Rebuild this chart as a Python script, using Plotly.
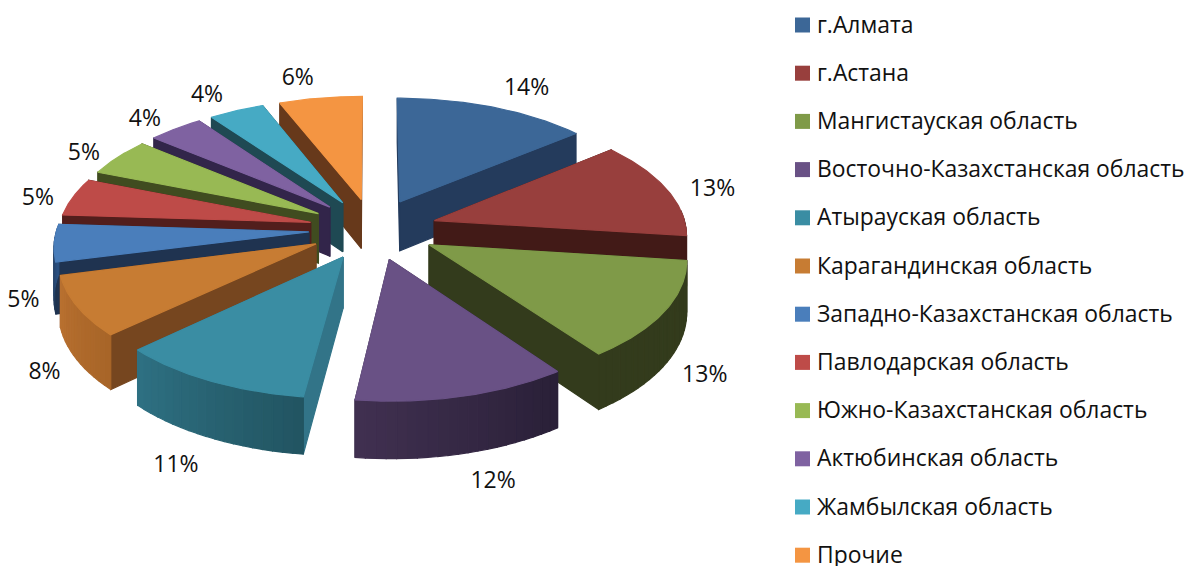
import numpy as np
import plotly.graph_objects as go

categories = ["г.Алмата", "г.Астана", "Мангистауская область", "Восточно-Казахстанская область",
              "Атырауская область", "Карагандинская область", "Западно-Казахстанская область",
              "Павлодарская область", "Южно-Казахстанская область", "Актюбинская область",
              "Жамбылская область", "Прочие"]
values = [14, 13, 13, 12, 11, 8, 5, 5, 5, 4, 4, 6]
top_colors = ["#3C6797", "#983F3D", "#7F9A48", "#695185", "#3A8DA3", "#C77C33",
              "#4A7EBB", "#BE4B48", "#98B954", "#7F62A1", "#46AAC4", "#F49542"]
face_colors = ["#243B5C", "#421A17", "#333B1C", "#2E2342", "#327488", "#76461F",
               "#1F3350", "#521E1C", "#404C20", "#32254A", "#1F4953", "#67391B"]
wall_left = ["#243B5C", "#421A17", "#333B1C", "#403050", "#2E7082", "#B87030",
             "#2A5080", "#7A2E2C", "#5E7330", "#4E3C66", "#2A6C7C", "#96582A"]
wall_right = ["#243B5C", "#421A17", "#333B1C", "#2A2038", "#225562", "#A86528",
              "#1F3350", "#521E1C", "#404C20", "#32254A", "#1F4953", "#67391B"]
label_nudges = [(18, 4), (12, 8), (9, -1), (21, 5), (-18, 7), (-1, 2),
                (5, 5), (0, 7), (-3, 9), (-6, 9), (-12, 7), (-16, 5)]

CX, CY = 373, 229
RX, RY, K, E = 252, 120, 0.105, 0.255
DEPTH = 50


def project(Xw, Yw):
    p = 1 / (1 - K * Yw)
    return CX + RX * Xw * p, CY + RY * Yw * p, p


def rim(a, m):
    return project(E * np.sin(m) + np.sin(a), -E * np.cos(m) - np.cos(a))


def drop(p):
    return DEPTH * p


def poly(xs, ys, color, name):
    return go.Scatter(x=xs, y=ys, mode="lines", fill="toself", fillcolor=color,
                      line=dict(color=color, width=1.2), hoverinfo="skip", name=name, showlegend=False)


def lerp(c1, c2, t):
    a = [int(c1[i:i + 2], 16) for i in (1, 3, 5)]
    b = [int(c2[i:i + 2], 16) for i in (1, 3, 5)]
    return "rgb(%d,%d,%d)" % tuple(round(u + (v - u) * t) for u, v in zip(a, b))


fractions = np.array(values) / sum(values)
edges = np.concatenate([[0], np.cumsum(fractions)]) * 2 * np.pi
mids = (edges[:-1] + edges[1:]) / 2
order = sorted(range(len(values)), key=lambda i: -np.cos(mids[i]))

fig = go.Figure()
for i in order:
    a0, a1, m = edges[i], edges[i + 1], mids[i]
    ax, ay, ap = project(E * np.sin(m), -E * np.cos(m))
    name = categories[i]
    for a in sorted((a0, a1), key=lambda q: -np.cos(q)):
        x, y, p = rim(a, m)
        fig.add_trace(poly([ax, x, x, ax, ax], [ay, y, y + drop(p), ay + drop(ap), ay], face_colors[i], name))
    n = max(2, int((a1 - a0) / np.radians(2)))
    grid = np.linspace(a0, a1, n + 1)
    for j in range(n):
        if -np.cos((grid[j] + grid[j + 1]) / 2) < -0.08:
            continue
        x0, y0, p0 = rim(grid[j], m)
        x1, y1, p1 = rim(grid[j + 1], m)
        t = 1 - j / max(n - 1, 1)
        fig.add_trace(poly([x0, x1, x1, x0, x0], [y0, y1, y1 + drop(p1), y0 + drop(p0), y0],
                           lerp(wall_left[i], wall_right[i], t), name))
    pts = [rim(a, m) for a in np.linspace(a0, a1, 60)]
    fig.add_trace(poly([ax] + [q[0] for q in pts] + [ax], [ay] + [q[1] for q in pts] + [ay], top_colors[i], name))

lx, ly, lt = [], [], []
for i, m in enumerate(mids):
    x, y, p = rim(m, m)
    X, Y = np.sin(m), -np.cos(m)
    if Y > 0:
        y += drop(p)
    lx.append(x + 36 * X + label_nudges[i][0])
    ly.append(y + 24 * Y + label_nudges[i][1])
    lt.append(f"{values[i]}%")
fig.add_trace(go.Scatter(x=lx, y=ly, text=lt, mode="text", textposition="middle center",
                         textfont=dict(family="Open Sans", size=23, color="#111111"),
                         hoverinfo="skip", showlegend=False))

LEG_Y0, LEG_STEP = 25, 48.2
leg_y = [LEG_Y0 + LEG_STEP * i for i in range(len(categories))]
fig.add_trace(go.Scatter(x=[802.5] * len(categories), y=leg_y, mode="markers",
                         marker=dict(symbol="square", size=15, color=top_colors),
                         hoverinfo="skip", showlegend=False))
for name, y in zip(categories, leg_y):
    fig.add_annotation(x=817, y=y, text=name, showarrow=False, xanchor="left", yanchor="middle",
                       xshift=-2, yshift=1, font=dict(family="Open Sans", size=22.9, color="#111111"))

fig.update_layout(width=1196, height=566, margin=dict(l=0, r=0, t=0, b=0),
                  paper_bgcolor="white", plot_bgcolor="white",
                  xaxis=dict(range=[0, 1196], visible=False, fixedrange=True),
                  yaxis=dict(range=[566, 0], visible=False, fixedrange=True))
fig.write_html("out.html", config=dict(displayModeBar=False),
               post_script="document.body.style.margin='0';document.documentElement.style.overflow='hidden';")
